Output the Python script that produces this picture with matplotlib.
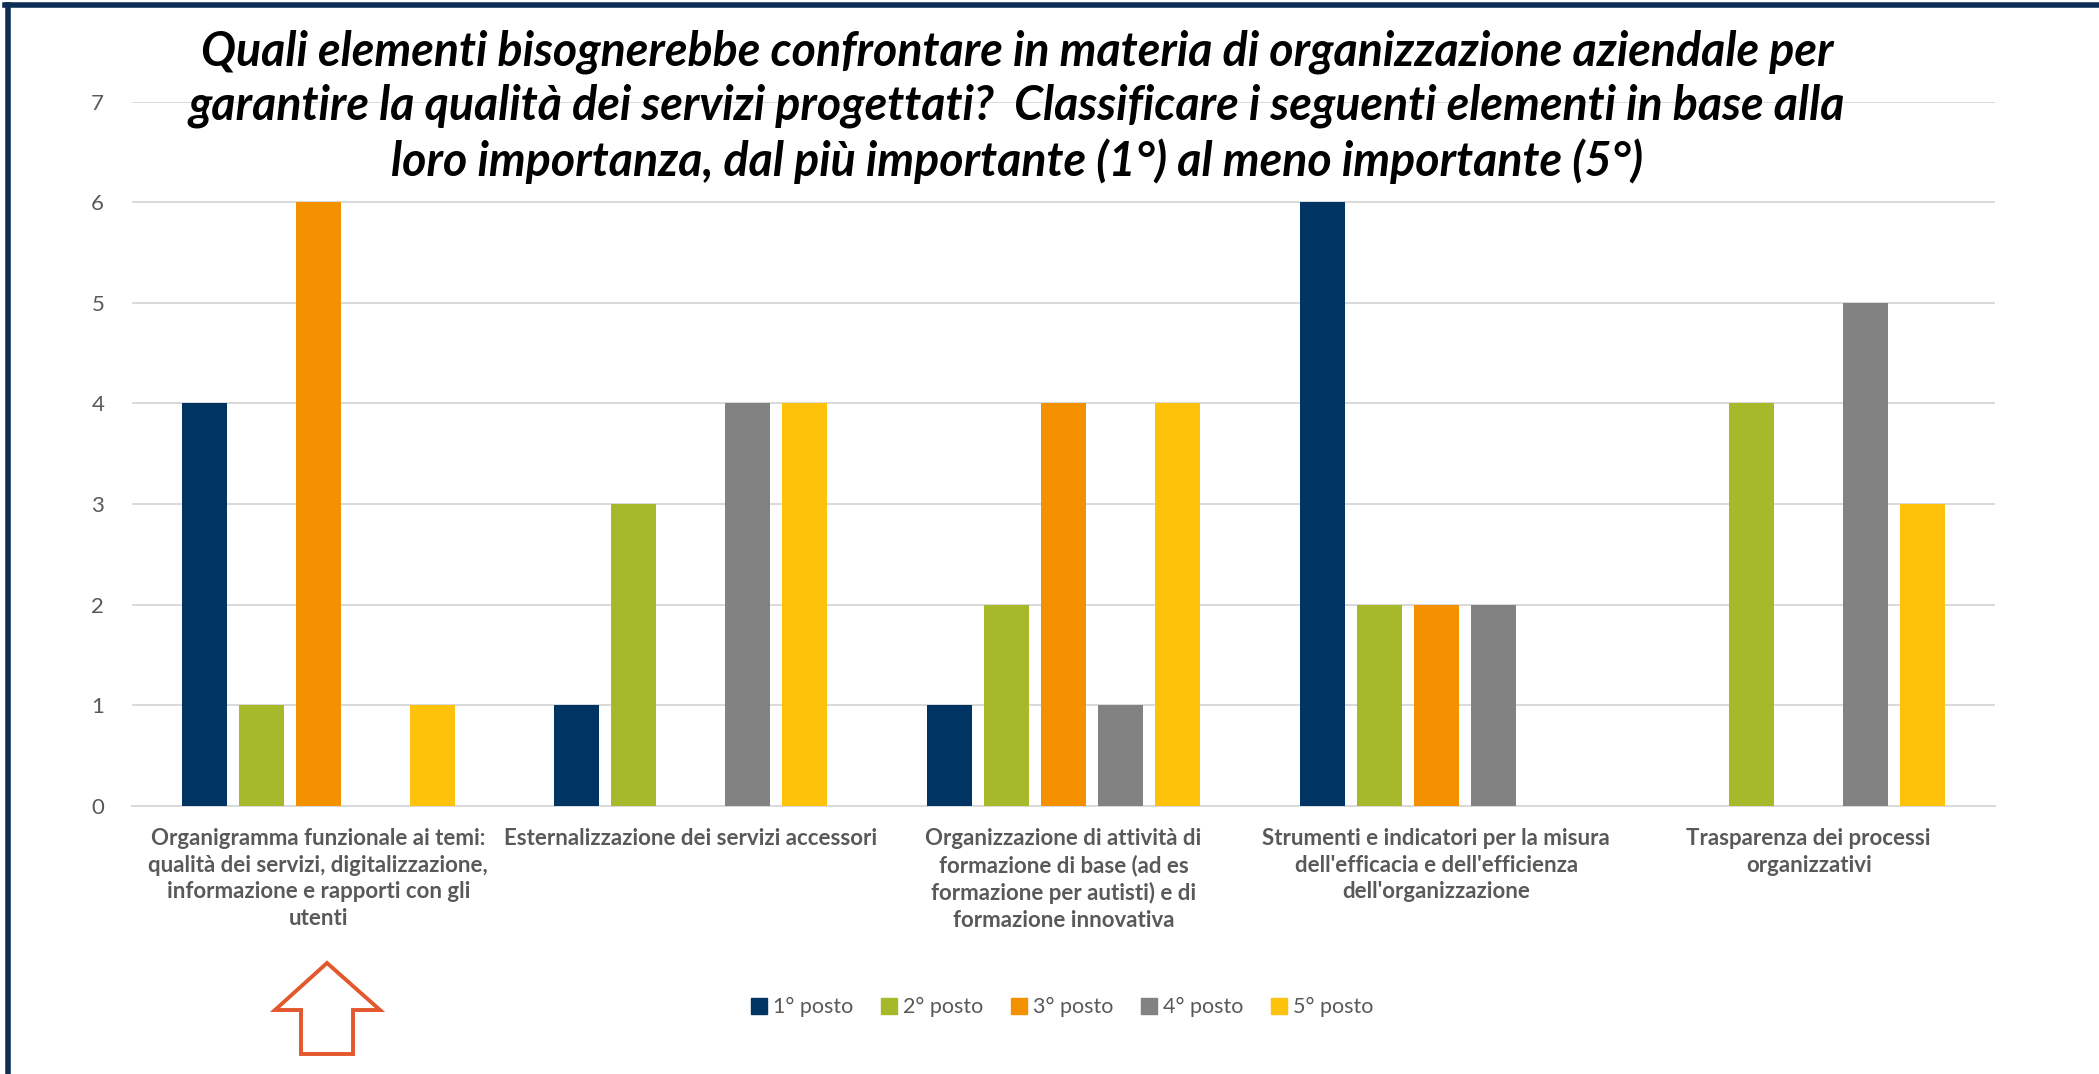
import numpy as np
import matplotlib
matplotlib.use("Agg")
from matplotlib import pyplot as plt
from matplotlib.lines import Line2D
from matplotlib.patches import Polygon

plt.rcParams["font.family"] = ["Lato", "DejaVu Sans"]

categories = [
    "Organigramma funzionale ai temi:\nqualità dei servizi, digitalizzazione,\ninformazione e rapporti con gli\nutenti",
    "Esternalizzazione dei servizi accessori",
    "Organizzazione di attività di\nformazione di base (ad es\nformazione per autisti) e di\nformazione innovativa",
    "Strumenti e indicatori per la misura\ndell'efficacia e dell'efficienza\ndell'organizzazione",
    "Trasparenza dei processi\norganizzativi",
]
series_names = ["1° posto", "2° posto", "3° posto", "4° posto", "5° posto"]
posto_1 = [4, 1, 1, 6, 0]
posto_2 = [1, 3, 2, 2, 4]
posto_3 = [6, 0, 4, 2, 0]
posto_4 = [0, 4, 1, 2, 5]
posto_5 = [1, 4, 4, 0, 3]
series_values = [posto_1, posto_2, posto_3, posto_4, posto_5]
colors = ["#003462", "#A6B92A", "#F39100", "#828282", "#FFC20A"]

title = ("Quali elementi bisognerebbe confrontare in materia di organizzazione aziendale per\n"
         "garantire la qualità dei servizi progettati?  Classificare i seguenti elementi in base alla\n"
         "loro importanza, dal più importante (1°) al meno importante (5°)")

W, H = 2099, 1074
fig = plt.figure(figsize=(W / 100, H / 100), dpi=100)
ax = fig.add_axes([132 / W, 1 - 806 / H, (1995 - 132) / W, (806 - 101.5) / H])

x = np.arange(len(categories))
width = 0.121
step = 0.153
for i, (name, vals) in enumerate(zip(series_names, series_values)):
    ax.bar(x + (i - 2) * step, vals, width, color=colors[i], label=name, zorder=3)

ax.set_xlim(-0.5, len(categories) - 0.5)
ax.set_ylim(0, 7)
ax.set_yticks(range(8))
ax.grid(axis="y", color="#D9D9D9", linewidth=1.4, zorder=0)
for s in ["top", "right", "left"]:
    ax.spines[s].set_visible(False)
ax.spines["bottom"].set_color("#D9D9D9")
ax.spines["bottom"].set_linewidth(1.4)
ax.tick_params(axis="y", length=0, pad=20, labelsize=16, labelcolor="#595959")
ax.set_xticks(x)
ax.set_xticklabels(categories, fontsize=16, fontweight="bold", color="#595959", linespacing=1.32)
ax.tick_params(axis="x", length=0, pad=16)

# title, slightly left of the plot centre as in the original
fig.text(1017 / W, 1 - 29 / H, title, ha="center", va="top", fontsize=33.5,
         fontweight="bold", fontstyle="italic", color="black", linespacing=1.28)

handles = [Line2D([], [], marker="s", linestyle="", markersize=11, color=c) for c in colors]
fig.legend(handles, series_names, loc="center", bbox_to_anchor=(1063 / W, 1 - 1007 / H),
           ncol=5, frameon=False, fontsize=15.5, handlelength=0.6, handletextpad=0.35,
           columnspacing=1.35, labelcolor="#595959")

# hollow arrow under the first category
arrow_px = [(327, 963), (380, 1010), (353, 1010), (353, 1054), (301, 1054), (301, 1010), (275, 1010)]
arrow = Polygon([(px / W, 1 - py / H) for px, py in arrow_px], closed=True, fill=False,
                edgecolor="#E2572B", linewidth=2.8, transform=fig.transFigure)
fig.add_artist(arrow)

# frame (top and left edges only visible)
fig.add_artist(Line2D([5 / W, 1], [1 - 5 / H, 1 - 5 / H], color="#0D2D55", linewidth=4,
                      transform=fig.transFigure))
fig.add_artist(Line2D([8 / W, 8 / W], [0, 1 - 5 / H], color="#0D2D55", linewidth=4,
                      transform=fig.transFigure))

fig.savefig("out.png", dpi=100)
